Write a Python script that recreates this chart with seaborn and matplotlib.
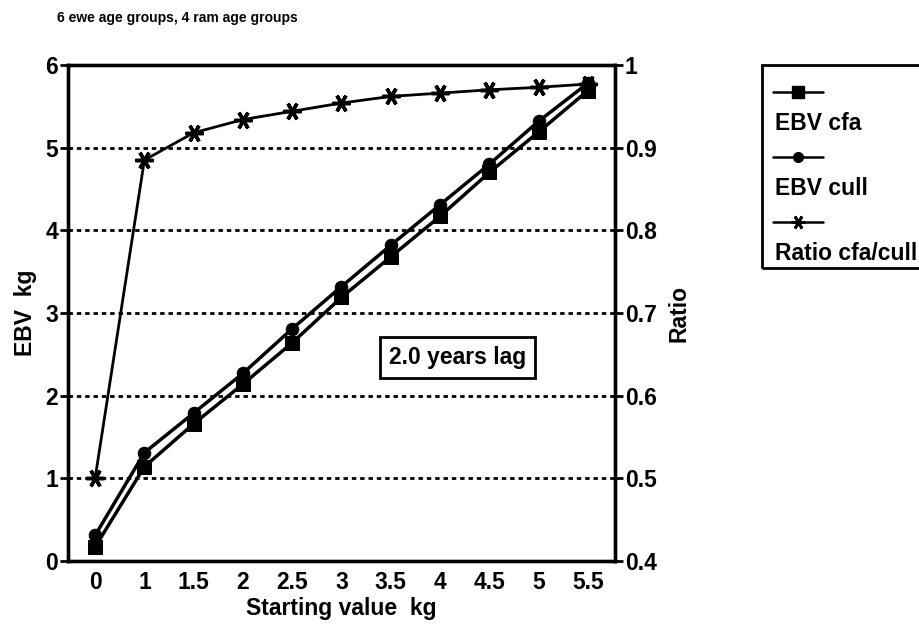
import numpy as np
import pandas as pd
import matplotlib
matplotlib.use("Agg")
import matplotlib.pyplot as plt
import seaborn as sns
from matplotlib.lines import Line2D
from matplotlib.patches import Rectangle

# ---- data ----
categories = ["0", "1", "1.5", "2", "2.5", "3", "3.5", "4", "4.5", "5", "5.5"]
ebv_cfa = [0.17, 1.14, 1.66, 2.14, 2.64, 3.19, 3.68, 4.17, 4.70, 5.19, 5.69]
ebv_cull = [0.31, 1.31, 1.79, 2.27, 2.81, 3.32, 3.82, 4.31, 4.80, 5.32, 5.78]
ratio_cfa_cull = [0.50, 0.885, 0.918, 0.934, 0.944, 0.954, 0.962, 0.966, 0.970, 0.973, 0.977]
left_ticks = [0, 1, 2, 3, 4, 5, 6]
right_ticks = [0.4, 0.5, 0.6, 0.7, 0.8, 0.9, 1.0]
right_tick_labels = ["0.4", "0.5", "0.6", "0.7", "0.8", "0.9", "1"]
legend_labels = ["EBV cfa", "EBV cull", "Ratio cfa/cull"]

sns.set_theme(style="white")
plt.rcParams["font.family"] = ["Liberation Sans", "DejaVu Sans"]
plt.rcParams["font.weight"] = "bold"

df = pd.DataFrame({
    "pos": np.arange(len(categories)),
    "cfa": ebv_cfa,
    "cull": ebv_cull,
    "ratio": ratio_cfa_cull,
})

fig = plt.figure(figsize=(9.2, 6.3), dpi=100)
ax = fig.add_axes([68 / 920, 1 - 561 / 630, (615 - 68) / 920, (561 - 65) / 630])
ax2 = ax.twinx()

LW = 2.5
star = (6, 2, 90)

# grid (dotted) at left-axis integer levels
for g in [1, 2, 3, 4, 5]:
    ax.axhline(g, color="black", lw=2.0, ls=(0, (1.6, 1.4)), zorder=1)

sns.lineplot(data=df, x="pos", y="cfa", ax=ax, color="black", lw=LW,
             marker="s", markersize=10, markeredgecolor="black",
             markerfacecolor="black", legend=False, zorder=3)
sns.lineplot(data=df, x="pos", y="cull", ax=ax, color="black", lw=LW,
             marker="o", markersize=9, markeredgecolor="black",
             markerfacecolor="black", legend=False, zorder=3)
sns.lineplot(data=df, x="pos", y="ratio", ax=ax2, color="black", lw=2.0,
             marker=star, markersize=13, markeredgewidth=2.5,
             markeredgecolor="black", legend=False, zorder=3)

ax.set_xlim(-0.55, len(categories) - 0.45)
ax.set_ylim(0, 6)
ax2.set_ylim(0.4, 1.0)

ax.set_xticks(df["pos"])
ax.set_xticklabels(categories)
ax.set_yticks(left_ticks)
ax.set_yticklabels([str(t) for t in left_ticks])
ax2.set_yticks(right_ticks)
ax2.set_yticklabels(right_tick_labels)

fs = 16.5
for a in (ax, ax2):
    for s in a.spines.values():
        s.set_linewidth(2.4)
        s.set_color("black")
    a.tick_params(axis="both", which="major", labelsize=fs, colors="black",
                  length=6, width=2, direction="out", pad=1)
    a.grid(False)
    for lab in a.get_xticklabels() + a.get_yticklabels():
        lab.set_fontweight("bold")

ax.set_xlabel("Starting value  kg", fontsize=fs, color="black", labelpad=2,
              fontweight="bold")
ax.set_ylabel("EBV  kg", fontsize=fs, color="black", labelpad=6,
              fontweight="bold")
ax2.set_ylabel("Ratio", fontsize=fs, color="black", labelpad=8,
               fontweight="bold")

ax.text(0.712, 0.41, "2.0 years lag", transform=ax.transAxes, fontsize=fs,
        ha="center", va="center", color="black", zorder=5, fontweight="bold",
        bbox=dict(boxstyle="square,pad=0.4", fc="white", ec="black", lw=2))

fig.text(57 / 920, 1 - 18 / 630, "6 ewe age groups, 4 ram age groups",
         fontsize=10, ha="left", va="center", color="black", fontweight="bold")

# legend drawn in figure pixels
def fx(px):
    return px / 920

def fy(py):
    return 1 - py / 630

fig.add_artist(Rectangle((fx(762), fy(268)), fx(200), fy(65) - fy(268),
                         transform=fig.transFigure, fill=False, ec="black", lw=2))
markers = [dict(marker="s", markersize=8), dict(marker="o", markersize=7),
           dict(marker=star, markersize=10, markeredgewidth=2)]
sample_y = [92, 157, 222]
text_y = [123, 188, 253]
for lab, mk, sy, ty in zip(legend_labels, markers, sample_y, text_y):
    fig.add_artist(Line2D([fx(773), fx(823)], [fy(sy), fy(sy)],
                          transform=fig.transFigure, color="black", lw=1.8))
    fig.add_artist(Line2D([fx(798)], [fy(sy)], transform=fig.transFigure,
                          color="black", lw=0, markerfacecolor="black",
                          markeredgecolor="black", **mk))
    fig.text(fx(775), fy(ty), lab, fontsize=fs, ha="left", va="center",
             color="black", fontweight="bold")

fig.savefig("out.png", dpi=100, facecolor="white")
